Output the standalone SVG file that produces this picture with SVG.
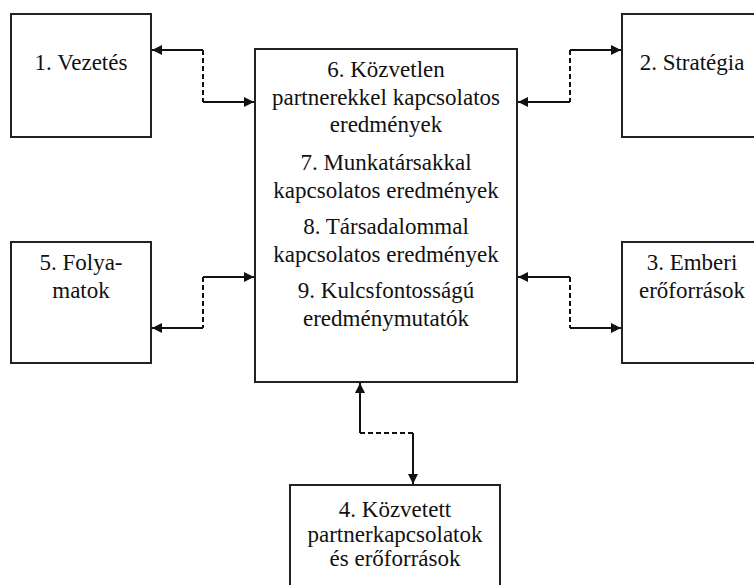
<svg xmlns="http://www.w3.org/2000/svg" width="754" height="585" viewBox="0 0 754 585">
<style>
.box{fill:#fff;stroke:#222;stroke-width:2}
.t{font-family:'Liberation Serif','Tinos','Times New Roman','DejaVu Serif','Noto Serif',Times,serif;font-size:23px;fill:#111;text-anchor:middle}
.c{fill:none;stroke:#111;stroke-width:2}
.d{fill:none;stroke:#111;stroke-width:2;stroke-dasharray:5,3}
</style>
<defs>
<marker id="ah" viewBox="0 0 10 10" refX="10" refY="5" markerWidth="10" markerHeight="10" markerUnits="userSpaceOnUse" orient="auto">
<path d="M0,0 L10,5 L0,10 Z" fill="#111"/>
</marker>
</defs>
<rect width="754" height="585" fill="#fff"/>
<g id="n1"><rect class="box" x="11" y="14" width="140" height="123"/><text class="t" x="81" y="70" style="font-family:'Liberation Serif',serif">1. Vezetés</text></g>
<g id="n2"><rect class="box" x="622" y="14" width="140" height="123"/><text class="t" x="692" y="70">2. Stratégia</text></g>
<g id="n5"><rect class="box" x="11" y="242" width="140" height="121"/><text class="t" x="81" y="270">5. Folya-</text><text class="t" x="81" y="298">matok</text></g>
<g id="n3"><rect class="box" x="622" y="242" width="140" height="121"/><text class="t" x="692" y="270">3. Emberi</text><text class="t" x="692" y="298">erőforrások</text></g>
<g id="n6"><rect class="box" x="255" y="49" width="262" height="333"/>
<text class="t" x="386" y="77">6. Közvetlen</text>
<text class="t" x="386" y="104.5">partnerekkel kapcsolatos</text>
<text class="t" x="386" y="132">eredmények</text>
<text class="t" x="386" y="170">7. Munkatársakkal</text>
<text class="t" x="386" y="197.5">kapcsolatos eredmények</text>
<text class="t" x="386" y="234">8. Társadalommal</text>
<text class="t" x="386" y="261.5">kapcsolatos eredmények</text>
<text class="t" x="386" y="298">9. Kulcsfontosságú</text>
<text class="t" x="386" y="326">eredménymutatók</text>
</g>
<g id="n4"><rect class="box" x="290" y="485" width="210" height="123"/>
<text class="t" x="395" y="517">4. Közvetett</text>
<text class="t" x="395" y="542">partnerkapcsolatok</text>
<text class="t" x="395" y="566">és erőforrások</text>
</g>
<g id="connectors">
<path class="c" d="M203,50 H152" marker-end="url(#ah)"/>
<path class="d" d="M203,50 V102"/>
<path class="c" d="M203,102 H254" marker-end="url(#ah)"/>
<path class="c" d="M570,50 H621" marker-end="url(#ah)"/>
<path class="d" d="M570,50 V102"/>
<path class="c" d="M570,102 H518" marker-end="url(#ah)"/>
<path class="c" d="M203,277 H254" marker-end="url(#ah)"/>
<path class="d" d="M203,277 V328"/>
<path class="c" d="M203,328 H152" marker-end="url(#ah)"/>
<path class="c" d="M570,277 H518" marker-end="url(#ah)"/>
<path class="d" d="M570,277 V328"/>
<path class="c" d="M570,328 H621" marker-end="url(#ah)"/>
<path class="c" d="M360,433 V383" marker-end="url(#ah)"/>
<path class="d" d="M360,433 H413"/>
<path class="c" d="M413,433 V484" marker-end="url(#ah)"/>
</g>
</svg>
